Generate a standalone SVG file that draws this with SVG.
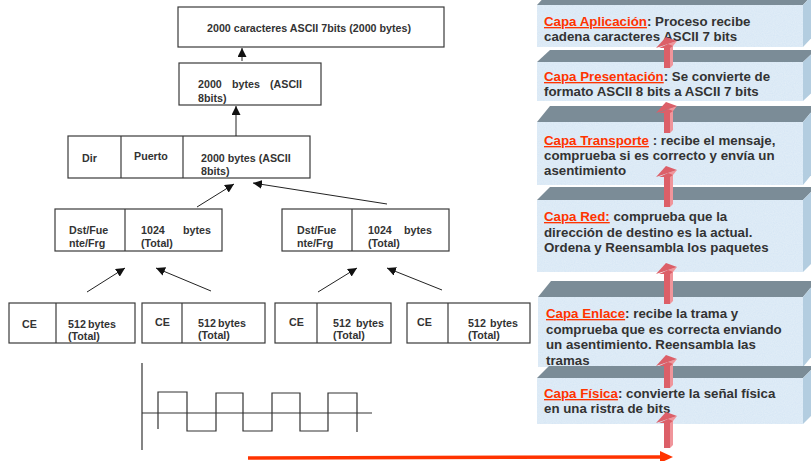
<svg xmlns="http://www.w3.org/2000/svg" width="811" height="461" viewBox="0 0 811 461">
<style>
.box{fill:#fff;stroke:#3a3a3a;stroke-width:1.2}
.t{font-family:"Liberation Sans",Arial,sans-serif;font-weight:bold;font-size:10.7px;fill:#333}
.c{stroke:#222;stroke-width:1;fill:none}
.w{stroke:#333;stroke-width:1.2;fill:none}
.top{fill:#7b8c97}
.front{fill:#d6e6f4}
.side{fill:#b3cde0}
.lt{font-family:"Liberation Sans",Arial,sans-serif;font-weight:bold;font-size:13.3px;fill:#333}
.red{fill:#ff3300;text-decoration:underline}
.af{fill:#dc5f68}
.as{fill:#f0959b}
</style>
<defs>
<marker id="ah" viewBox="0 0 10 10" refX="10" refY="5" markerWidth="9" markerHeight="9" markerUnits="userSpaceOnUse" orient="auto">
<path d="M0,0 L10,5 L0,10 Z" fill="#111"/>
</marker>
<filter id="tex" x="0" y="0" width="1" height="1">
<feTurbulence type="fractalNoise" baseFrequency="0.9" numOctaves="2" seed="3" result="n"/>
<feColorMatrix in="n" type="matrix" values="0 0 0 0 0.95  0 0 0 0 0.97  0 0 0 0 1  0 0 0 0.35 0" result="m"/>
<feComposite in="m" in2="SourceGraphic" operator="in" result="c"/>
<feMerge><feMergeNode in="SourceGraphic"/><feMergeNode in="c"/></feMerge>
</filter>
</defs>

<g id="box-ascii7">
<rect class="box" x="178" y="7" width="266" height="40"/>
<text class="t" x="207" y="32">2000 caracteres ASCII 7bits (2000 bytes)</text>
</g>
<g id="box-ascii8">
<rect class="box" x="179" y="63" width="142" height="42"/>
<text class="t" y="88"><tspan x="198">2000</tspan><tspan x="232">bytes</tspan><tspan x="270">(ASCII</tspan></text>
<text class="t" x="198" y="102">8bits)</text>
</g>
<g id="box-segment">
<rect class="box" x="68" y="136" width="242" height="42"/>
<line class="box" x1="121" y1="136" x2="121" y2="178"/>
<line class="box" x1="183" y1="136" x2="183" y2="178"/>
<text class="t" x="82" y="162">Dir</text>
<text class="t" x="134" y="160">Puerto</text>
<text class="t" x="201" y="162">2000 bytes (ASCII</text>
<text class="t" x="201" y="175">8bits)</text>
</g>
<g id="box-packet-left">
<rect class="box" x="55" y="209" width="167" height="42"/>
<line class="box" x1="125" y1="209" x2="125" y2="251"/>
<text class="t" x="69" y="234">Dst/Fue</text>
<text class="t" x="69" y="247">nte/Frg</text>
<text class="t" y="234"><tspan x="141">1024</tspan><tspan x="183">bytes</tspan></text>
<text class="t" x="141" y="247">(Total)</text>
</g>
<g id="box-packet-right">
<rect class="box" x="282" y="209" width="167" height="42"/>
<line class="box" x1="352" y1="209" x2="352" y2="251"/>
<text class="t" x="297" y="234">Dst/Fue</text>
<text class="t" x="297" y="247">nte/Frg</text>
<text class="t" y="234"><tspan x="368">1024</tspan><tspan x="404">bytes</tspan></text>
<text class="t" x="368" y="247">(Total)</text>
</g>
<g id="frame-1">
<rect class="box" x="9" y="303" width="126" height="40"/>
<line class="box" x1="56" y1="303" x2="56" y2="343"/>
<text class="t" x="22" y="328">CE</text>
<text class="t" y="328"><tspan x="68">512</tspan><tspan x="88">bytes</tspan></text>
<text class="t" x="68" y="340">(Total)</text>
</g>
<g id="frame-2">
<rect class="box" x="142" y="303" width="123" height="40"/>
<line class="box" x1="182" y1="303" x2="182" y2="343"/>
<text class="t" x="155" y="326">CE</text>
<text class="t" y="327"><tspan x="198">512</tspan><tspan x="218">bytes</tspan></text>
<text class="t" x="198" y="339">(Total)</text>
</g>
<g id="frame-3">
<rect class="box" x="275" y="303" width="116" height="40"/>
<line class="box" x1="317" y1="303" x2="317" y2="343"/>
<text class="t" x="289" y="326">CE</text>
<text class="t" y="327"><tspan x="333">512</tspan><tspan x="356">bytes</tspan></text>
<text class="t" x="333" y="339">(Total)</text>
</g>
<g id="frame-4">
<rect class="box" x="407" y="303" width="123" height="40"/>
<line class="box" x1="448" y1="303" x2="448" y2="343"/>
<text class="t" x="417" y="326">CE</text>
<text class="t" y="327"><tspan x="468">512</tspan><tspan x="490">bytes</tspan></text>
<text class="t" x="468" y="339">(Total)</text>
</g>

<g id="signal">
<line class="w" stroke="#777" x1="142" y1="363" x2="142" y2="450"/>
<line class="w" stroke="#777" x1="142" y1="413" x2="372" y2="413"/>
<path class="w" d="M158,429 V392 H187 V431 H216 V393 H243 V431 H272 V393 H300 V431 H328 V393 H357 V432"/>
</g>

<g id="connectors">
<line class="c" x1="242" y1="61" x2="242" y2="48" marker-end="url(#ah)"/>
<line class="c" x1="236" y1="136" x2="236" y2="106" marker-end="url(#ah)"/>
<line class="c" x1="197" y1="207" x2="234" y2="184" marker-end="url(#ah)"/>
<line class="c" x1="387" y1="204" x2="253" y2="183" marker-end="url(#ah)"/>
<line class="c" x1="87" y1="292" x2="125" y2="268" marker-end="url(#ah)"/>
<line class="c" x1="211" y1="291" x2="156" y2="268" marker-end="url(#ah)"/>
<line class="c" x1="318" y1="292" x2="357" y2="268" marker-end="url(#ah)"/>
<line class="c" x1="442" y1="290" x2="387" y2="268" marker-end="url(#ah)"/>
<line x1="248" y1="458" x2="662" y2="457" stroke="#ff3300" stroke-width="3.5"/>
<path d="M660,451 L673,457 L660,463 Z" fill="#ff3300"/>
</g>

<g id="layer-aplicacion">
<polygon class="top" points="537,5 803,5 816,-9 550,-9"/>
<rect class="front" x="537" y="5" width="266" height="42" filter="url(#tex)"/>
<polygon class="side" points="803,5 816,-9 816,33 803,47"/>
<text class="lt" x="544" y="26"><tspan class="red">Capa Aplicación</tspan>: Proceso recibe</text>
<text class="lt" x="544" y="41">cadena caracteres ASCII 7 bits</text>
</g>
<g id="layer-presentacion">
<polygon class="top" points="537,62 803,62 816,50 550,50"/>
<rect class="front" x="537" y="62" width="266" height="39" filter="url(#tex)"/>
<polygon class="side" points="803,62 816,50 816,89 803,101"/>
<text class="lt" x="544" y="81"><tspan class="red">Capa Presentación</tspan>: Se convierte de</text>
<text class="lt" x="544" y="96">formato ASCII 8 bits a ASCII 7 bits</text>
</g>
<g id="layer-transporte">
<polygon class="top" points="537,122 803,122 816,106 550,106"/>
<rect class="front" x="537" y="122" width="266" height="63" filter="url(#tex)"/>
<polygon class="side" points="803,122 816,106 816,169 803,185"/>
<text class="lt" x="544" y="145"><tspan class="red">Capa Transporte</tspan> : recibe el mensaje,</text>
<text class="lt" x="544" y="160">comprueba si es correcto y envía un</text>
<text class="lt" x="544" y="175">asentimiento</text>
</g>
<g id="layer-red">
<polygon class="top" points="537,200 803,200 816,187 550,187"/>
<rect class="front" x="537" y="200" width="266" height="72" filter="url(#tex)"/>
<polygon class="side" points="803,200 816,187 816,259 803,272"/>
<text class="lt" x="544" y="221"><tspan class="red">Capa Red:</tspan> comprueba que la</text>
<text class="lt" x="544" y="237">dirección de destino es la actual.</text>
<text class="lt" x="544" y="252">Ordena y Reensambla los paquetes</text>
</g>
<g id="layer-enlace">
<polygon class="top" points="538,297 803,297 816,281 551,281"/>
<rect class="front" x="538" y="297" width="265" height="70" filter="url(#tex)"/>
<polygon class="side" points="803,297 816,281 816,351 803,367"/>
<text class="lt" x="546" y="318"><tspan class="red">Capa Enlace</tspan>: recibe la trama y</text>
<text class="lt" x="546" y="334">comprueba que es correcta enviando</text>
<text class="lt" x="546" y="349">un asentimiento. Reensambla las</text>
<text class="lt" x="546" y="365">tramas</text>
</g>
<g id="layer-fisica">
<polygon class="top" points="537,378 803,378 815,366 549,366"/>
<rect class="front" x="537" y="378" width="266" height="46" filter="url(#tex)"/>
<polygon class="side" points="803,378 815,366 815,412 803,424"/>
<text class="lt" x="544" y="398"><tspan class="red">Capa Física</tspan>: convierte la señal física</text>
<text class="lt" x="544" y="413">en una ristra de bits</text>
</g>

<g id="stack-arrows">
<g transform="translate(0,37)">
<path class="as" d="M664,11 L668,7 L677,4 L673,9 L673,28 L670,31 Z"/>
<path class="af" d="M656,11 L666,0 L677,4 L668,7 Z" fill="#e8777f"/>
<path class="af" d="M659,11 L664,11 L664,31 L670,31 L670,11 L673,9 L668,7 Z"/>
</g>
<g transform="translate(0,102)">
<path class="as" d="M664,11 L668,7 L677,4 L673,9 L673,28 L670,31 Z"/>
<path class="af" d="M656,11 L666,0 L677,4 L668,7 Z" fill="#e8777f"/>
<path class="af" d="M659,11 L664,11 L664,31 L670,31 L670,11 L673,9 L668,7 Z"/>
</g>
<g transform="translate(0,166)">
<path class="as" d="M664,11 L668,7 L677,4 L673,9 L673,38 L670,41 Z"/>
<path class="af" d="M656,11 L666,0 L677,4 L668,7 Z" fill="#e8777f"/>
<path class="af" d="M659,11 L664,11 L664,41 L670,41 L670,11 L673,9 L668,7 Z"/>
</g>
<g transform="translate(0,263)">
<path class="as" d="M664,11 L668,7 L677,4 L673,9 L673,38 L670,41 Z"/>
<path class="af" d="M656,11 L666,0 L677,4 L668,7 Z" fill="#e8777f"/>
<path class="af" d="M659,11 L664,11 L664,41 L670,41 L670,11 L673,9 L668,7 Z"/>
</g>
<g transform="translate(0,355)">
<path class="as" d="M664,11 L668,7 L677,4 L673,9 L673,30 L670,33 Z"/>
<path class="af" d="M656,11 L666,0 L677,4 L668,7 Z" fill="#e8777f"/>
<path class="af" d="M659,11 L664,11 L664,33 L670,33 L670,11 L673,9 L668,7 Z"/>
</g>
<g transform="translate(0,412)">
<path class="as" d="M664,11 L668,7 L677,4 L673,9 L673,33 L670,36 Z"/>
<path class="af" d="M656,11 L666,0 L677,4 L668,7 Z" fill="#e8777f"/>
<path class="af" d="M659,11 L664,11 L664,36 L670,36 L670,11 L673,9 L668,7 Z"/>
</g>
</g>
</svg>
